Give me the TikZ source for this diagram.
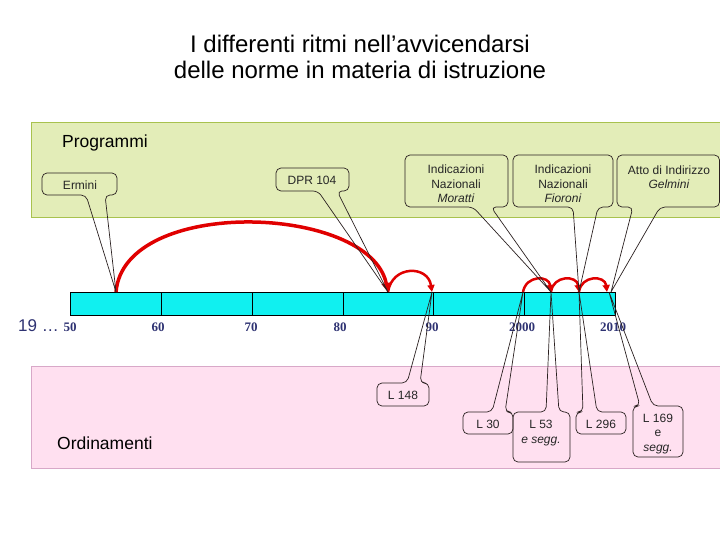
\documentclass[tikz,border=0pt]{standalone}
\usepackage{fontspec}
\setmainfont{Liberation Sans}
\newfontfamily\yearfont{Liberation Serif}
\usetikzlibrary{arrows.meta}
\definecolor{bandgreen}{HTML}{E3EDB8}
\definecolor{bandgreenline}{HTML}{A8C24E}
\definecolor{bandpink}{HTML}{FFE0F0}
\definecolor{bandpinkline}{HTML}{D8A8C8}
\definecolor{barcyan}{HTML}{10F0F0}
\definecolor{yearblue}{HTML}{2E3272}
\definecolor{arcred}{HTML}{E00000}
\definecolor{callline}{HTML}{2A2020}
\tikzset{
  band/.style={line width=1pt},
  call/.style={draw=callline, line width=0.7pt, rounded corners=5pt},
  calltext/.style={font=\fontsize{12}{14.5}\selectfont, align=center, text=black!85, inner sep=0pt},
  yearlab/.style={font=\yearfont\bfseries\fontsize{13}{15}\selectfont, text=yearblue, inner sep=0pt},
  seg/.style={draw=black, line width=0.7pt, fill=barcyan},
  arcbig/.style={draw=arcred, line width=3.5pt, -{Triangle[length=9pt,width=9pt]}},
  arcsmall/.style={draw=arcred, line width=2.5pt, -{Triangle[length=7pt,width=7pt]}},
  bandlabel/.style={font=\fontsize{17.5}{20}\selectfont, inner sep=0pt, anchor=west}
}
\begin{document}
\begin{tikzpicture}[x=1pt,y=-1pt]
\useasboundingbox (0,0) rectangle (720,540);
% title
\node[font=\fontsize{24}{26}\selectfont, align=center, inner sep=0pt] (title) at (360,57)
  {I differenti ritmi nell’avvicendarsi\\delle norme in materia di istruzione};
% bands
\draw[band, fill=bandgreen, draw=bandgreenline] (31,123) rectangle (724,218);
\draw[band, fill=bandpink, draw=bandpinkline] (31,366) rectangle (724,468);
\node[bandlabel] (prog) at (62,143) {Programmi};
\node[bandlabel] (ord) at (57,443) {Ordinamenti};
% timeline bar
\node[seg, minimum width=91pt, minimum height=23pt, inner sep=0pt] (s50) at (115.5,303.5) {};
\node[seg, minimum width=91pt, minimum height=23pt, inner sep=0pt] (s60) at (206.5,303.5) {};
\node[seg, minimum width=91pt, minimum height=23pt, inner sep=0pt] (s70) at (297.5,303.5) {};
\node[seg, minimum width=90pt, minimum height=23pt, inner sep=0pt] (s80) at (388,303.5) {};
\node[seg, minimum width=91pt, minimum height=23pt, inner sep=0pt] (s90) at (478.5,303.5) {};
\node[seg, minimum width=91pt, minimum height=23pt, inner sep=0pt] (s00) at (569.5,303.5) {};
% year labels
\node[font=\fontsize{17}{20}\selectfont, text=yearblue, inner sep=0pt, anchor=east] (y19) at (59,326) {19 …};
\node[yearlab] (y50) at (70,327) {50};
\node[yearlab] (y60) at (158,327) {60};
\node[yearlab] (y70) at (251,327) {70};
\node[yearlab] (y80) at (340,327) {80};
\node[yearlab] (y90) at (432,327) {90};
\node[yearlab] (y00) at (522,327) {2000};
\node[yearlab] (y10) at (613,327) {2010};
% tip coordinates
\coordinate (tE) at (116,292);
\coordinate (tD) at (388,292);
\coordinate (t90) at (432,292);
\coordinate (t00) at (523,292);
\coordinate (tM) at (551,292);
\coordinate (tF) at (579,292);
\coordinate (tG) at (611,292);
\coordinate (tL) at (609,292);
% red arcs
\draw[arcbig] (tE) .. controls (124,196) and (370,204) .. (tD);
\draw[arcsmall] (tD) .. controls (392,265) and (428,265) .. (t90);
\draw[arcsmall] (t00) .. controls (526,275) and (549,275) .. (tM);
\draw[arcsmall] (tM) .. controls (553,275) and (577,275) .. (tF);
\draw[arcsmall] (tF) .. controls (581,275) and (605,275) .. (607,292);
% callouts, top
\draw[call] (tE) -- (105,195) -- (117,195) -- (117,173) -- (42,173) -- (42,195) -- (86,195) -- (tE);
\node[calltext] (ermini) at (80,185) {Ermini};
\draw[call] (tD) -- (337,191) -- (349,191) -- (349,168) -- (276,168) -- (276,191) -- (318,191) -- (tD);
\node[calltext] (dpr) at (312,180) {DPR 104};
\draw[call] (tM) -- (491,207) -- (508,207) -- (508,155) -- (405,155) -- (405,207) -- (473,207) -- (tM);
\node[calltext] (moratti) at (456,184) {Indicazioni\\Nazionali\\\textit{Moratti}};
\draw[call] (tF) -- (598,207) -- (613,207) -- (613,155) -- (513,155) -- (513,207) -- (573,207) -- (tF);
\node[calltext] (fioroni) at (563,184) {Indicazioni\\Nazionali\\\textit{Fioroni}};
\draw[call] (tG) -- (660,207) -- (719.5,207) -- (719.5,155) -- (617,155) -- (617,207) -- (633,207) -- (tG);
\node[calltext] (gelmini) at (669,177) {Atto di Indirizzo\\\textit{Gelmini}};
% callouts, bottom
\draw[call] (t90) -- (420,383) -- (429,383) -- (429,406) -- (377,406) -- (377,383) -- (407,383) -- (t90);
\node[calltext] (l148) at (403,395) {L 148};
\draw[call] (t00) -- (505,412) -- (513,412) -- (513,434) -- (463,434) -- (463,412) -- (492,412) -- (t00);
\node[calltext] (l30) at (488,424) {L 30};
\draw[call] (tM) -- (559,412) -- (570,412) -- (570,462) -- (513,462) -- (513,412) -- (546,412) -- (tM);
\node[calltext] (l53) at (541,433) {L 53\\\textit{e segg.}};
\draw[call] (tF) -- (597,412) -- (626,412) -- (626,434) -- (576,434) -- (576,412) -- (583,412) -- (tF);
\node[calltext] (l296) at (601,424) {L 296};
\draw[call] (tL) -- (653,406) -- (683,406) -- (683,457) -- (633,457) -- (633,406) -- (640,406) -- (tL);
\node[calltext] (l169) at (658,434) {L 169\\e\\\textit{segg.}};
\end{tikzpicture}
\end{document}
